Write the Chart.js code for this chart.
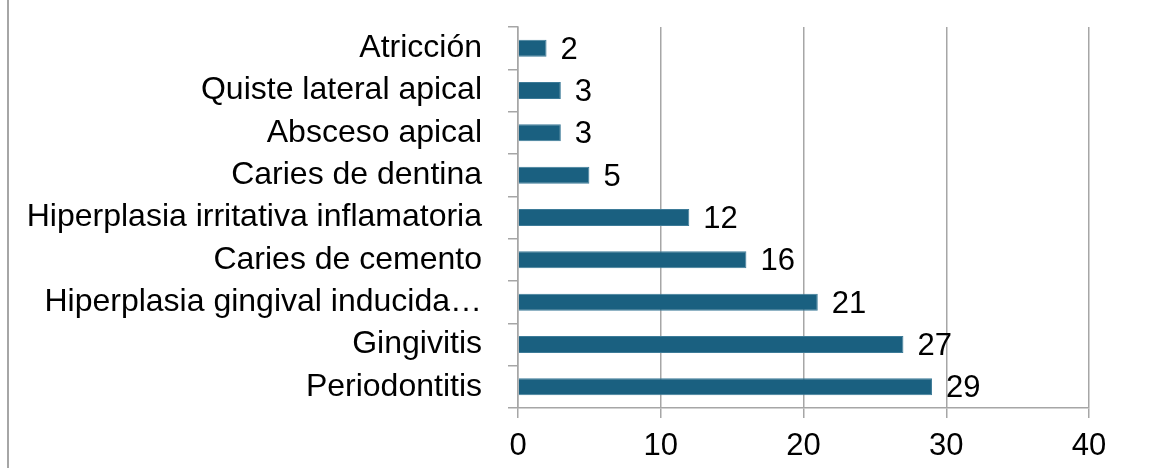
<!DOCTYPE html>
<html>
<head>
<meta charset="utf-8">
<script src="https://cdn.jsdelivr.net/npm/chart.js@4/dist/chart.umd.min.js"></script>
<style>
    html, body { margin: 0; padding: 0; background: #fff; }
    #wrap { position: relative; width: 1171px; height: 468px; }
    #wrap::before { content: ''; position: absolute; left: 7px; top: 0; bottom: 0; width: 2px; background: #a6a6a6; }
</style>
</head>
<body>
<div id="wrap"><canvas id="chart" width="1171" height="468"></canvas></div>
<script>
// Diagnosticos, de arriba hacia abajo
const categories = [
    'Atricción',
    'Quiste lateral apical',
    'Absceso apical',
    'Caries de dentina',
    'Hiperplasia irritativa inflamatoria',
    'Caries de cemento',
    'Hiperplasia gingival inducida…',
    'Gingivitis',
    'Periodontitis'
];
const counts = [2, 3, 3, 5, 12, 16, 21, 27, 29];
const xTicks = [0, 10, 20, 30, 40];

const BAR_COLOR = '#1a6080';
const GRID_COLOR = '#a6a6a6';
const FONT = "'Liberation Sans', Arial, sans-serif";

/** Value labels next to the bar ends */
const valueLabels = {
    id: 'valueLabels',
    afterDatasetsDraw(chart) {
        const ctx = chart.ctx;
        const meta = chart.getDatasetMeta(0);
        ctx.save();
        ctx.font = `31px ${FONT}`;
        ctx.fillStyle = '#000';
        ctx.textAlign = 'left';
        ctx.textBaseline = 'middle';
        meta.data.forEach((bar, i) => {
            ctx.fillText(String(counts[i]), bar.x + 14, bar.y + 2);
        });
        ctx.restore();
    }
};

new Chart(document.getElementById('chart'), {
    type: 'bar',
    data: {
        labels: categories,
        datasets: [{
            data: counts,
            backgroundColor: BAR_COLOR,
            borderColor: '#3d7b98',
            borderWidth: 1,
            barPercentage: 0.4,
            categoryPercentage: 1
        }]
    },
    options: {
        indexAxis: 'y',
        responsive: false,
        animation: false,
        layout: { padding: { top: 27, right: 82, bottom: 0, left: 0 } },
        plugins: { legend: { display: false }, tooltip: { enabled: false } },
        scales: {
            x: {
                min: 0, max: 40,
                afterBuildTicks: s => { s.ticks = xTicks.map(v => ({ value: v })); },
                ticks: { color: '#000', font: { family: FONT, size: 31 }, padding: 10 },
                grid: { color: GRID_COLOR, lineWidth: 1.5, tickLength: 10 },
                border: { color: GRID_COLOR, width: 1.5 },
                afterFit: s => { s.height = 60; }
            },
            y: {
                offset: true,
                ticks: { color: '#000', font: { family: FONT, size: 32 }, padding: 26, autoSkip: false },
                grid: { offset: true, drawOnChartArea: false, color: GRID_COLOR, lineWidth: 1.5, tickLength: 10 },
                border: { color: GRID_COLOR, width: 1.5 },
                afterFit: s => { s.width = 518; s.paddingTop = 0; s.paddingBottom = 0; }
            }
        }
    },
    plugins: [valueLabels]
});
</script>
</body>
</html>
